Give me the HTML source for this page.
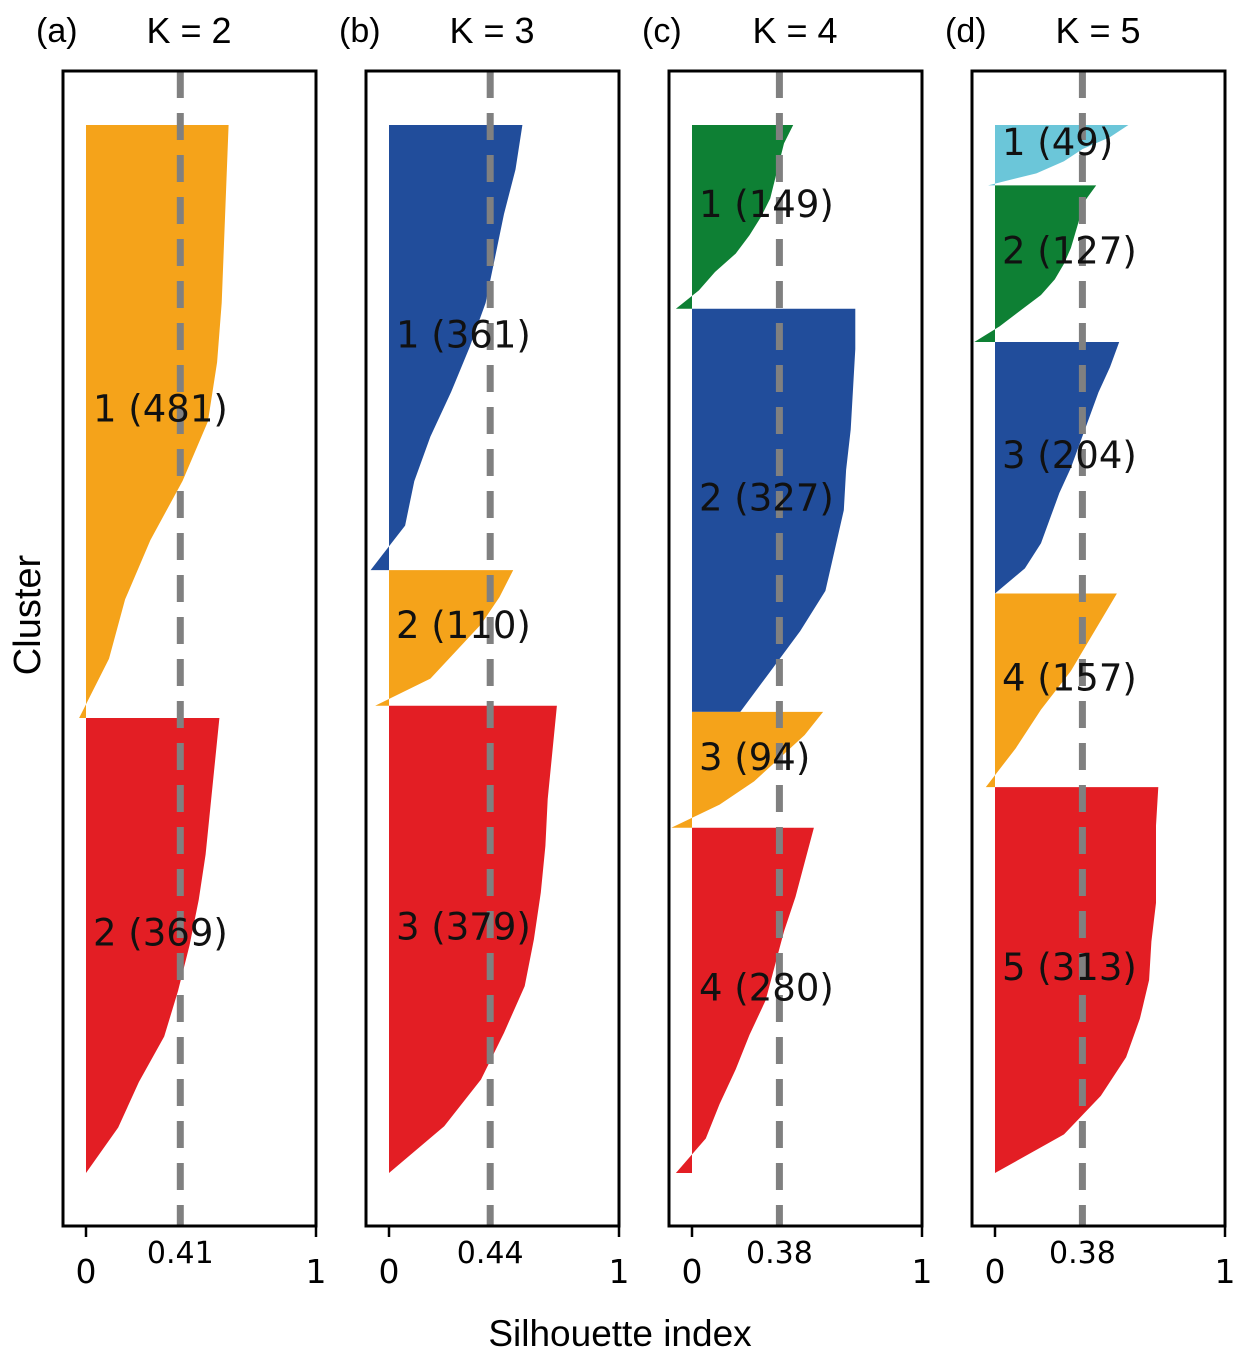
<!DOCTYPE html>
<html><head><meta charset="utf-8"><style>
body{margin:0;background:#fff}
svg text{font-family:"DejaVu Sans","Liberation Sans",sans-serif}
</style></head><body>
<svg id="fig" width="1247" height="1359" viewBox="0 0 1247 1359" xmlns="http://www.w3.org/2000/svg">
<text x="28" y="615" font-size="38" text-anchor="middle" transform="rotate(-90 28 615)" dy="12" style="font-family:'Liberation Sans',sans-serif">Cluster</text>
<text x="620" y="1346" font-size="37" text-anchor="middle" style="font-family:'Liberation Sans',sans-serif">Silhouette index</text>
</svg>
<script>
const panelLetters=["(a)","(b)","(c)","(d)"];
const panelTitles=["K = 2","K = 3","K = 4","K = 5"];
const means=[0.41,0.44,0.38,0.38];
const xTicks=[0,1];
const counts=[[481,369],[361,110,379],[149,327,94,280],[49,127,204,157,313]];
const colors=[["#f5a31a","#e31e24"],["#214d9b","#f5a31a","#e31e24"],["#0e8034","#214d9b","#f5a31a","#e31e24"],["#6bc6d9","#0e8034","#214d9b","#f5a31a","#e31e24"]];
// sorted silhouette profiles (descending, sampled evenly top->bottom)
const profilesA=[[.62,.61,.60,.59,.57,.53,.42,.28,.17,.10,-.03],[.58,.56,.54,.52,.49,.45,.40,.34,.23,.14,0]];
const profilesB=[[.58,.55,.50,.46,.42,.35,.27,.18,.11,.07,-.08],[.54,.48,.40,.29,.18,-.06],[.73,.71,.69,.68,.66,.63,.59,.50,.40,.24,0]];
const profilesC=[[.44,.40,.38,.36,.34,.30,.25,.19,.10,.03,-.07],[.71,.71,.70,.69,.67,.66,.62,.58,.47,.34,.21],[.57,.49,.38,.27,.12,-.09],[.53,.49,.45,.40,.36,.32,.25,.19,.12,.06,-.07]];
const profilesD=[[.58,.50,.38,.30,.18,-.03],[.44,.39,.37,.35,.33,.30,.26,.20,.11,.02,-.09],[.54,.50,.45,.41,.37,.33,.28,.24,.20,.13,0],[.53,.43,.33,.20,.09,-.04],[.71,.70,.70,.70,.68,.67,.63,.57,.46,.30,0]];
const profiles=[profilesA,profilesB,profilesC,profilesD];

const NS="http://www.w3.org/2000/svg";
const svg=document.getElementById('fig');
const lefts=[63,366,669,972], W=253, top0=71, bot0=1226;
const yTop=125, yBot=1173;
function mk(tag,attrs,parent){const e=document.createElementNS(NS,tag);for(const k in attrs)e.setAttribute(k,attrs[k]);(parent||svg).appendChild(e);return e;}
for(let p=0;p<4;p++){
  const L=lefts[p];
  const xs=v=>L+(v+0.1)/1.1*W;
  const total=counts[p].reduce((a,b)=>a+b,0);
  const ys=s=>yTop+s*(yBot-yTop)/total;
  const g=mk('g',{});
  
  
  let s0=0;
  const labels=[];
  counts[p].forEach((n,c)=>{
    const prof=profiles[p][c];
    let pts=[[xs(0),ys(s0)]];
    prof.forEach((v,i)=>{pts.push([xs(v),ys(s0+n*i/(prof.length-1))]);});
    pts.push([xs(0),ys(s0+n)]);
    const poly=mk('polygon',{points:pts.map(q=>q.join(',')).join(' '),fill:colors[p][c]},g);
    
    
    labels.push([c+1,n,ys(s0+n/2)-13]);
    s0+=n;
  });
  const mx=xs(means[p]);
  const ml=mk('line',{x1:mx,y1:top0,x2:mx,y2:bot0,stroke:'#808080','stroke-width':7,'stroke-dasharray':'27 15'},g);
  
  
  labels.forEach(l=>{
    const t=mk('text',{x:xs(0)+7,y:l[2]+13,'font-size':37,fill:'#111'},g);
    t.textContent=l[0]+' ('+l[1]+')';
    
    
  });
  const fr=mk('rect',{x:L,y:top0,width:W,height:bot0-top0,fill:'none',stroke:'#000','stroke-width':3},g);
  
  
  xTicks.forEach(v=>{
    mk('line',{x1:xs(v),y1:bot0,x2:xs(v),y2:bot0+11,stroke:'#000','stroke-width':2.5},g);
    const t=mk('text',{x:xs(v),y:1283,'font-size':33,'text-anchor':'middle'},g);
    t.textContent=String(v);
    
    
  });
  const mt=mk('text',{x:mx,y:1263,'font-size':30,'text-anchor':'middle'},g);
  mt.textContent=means[p].toFixed(2);
  
  
  const pl=mk('text',{x:L-27,y:42,'font-size':34,style:"font-family:'Liberation Sans',sans-serif"},g);
  pl.textContent=panelLetters[p];
  
  
  const pt=mk('text',{x:L+126,y:43,'font-size':36,'text-anchor':'middle',style:"font-family:'Liberation Sans',sans-serif"},g);
  pt.textContent=panelTitles[p];
  
  
}
</script>
</body></html>
